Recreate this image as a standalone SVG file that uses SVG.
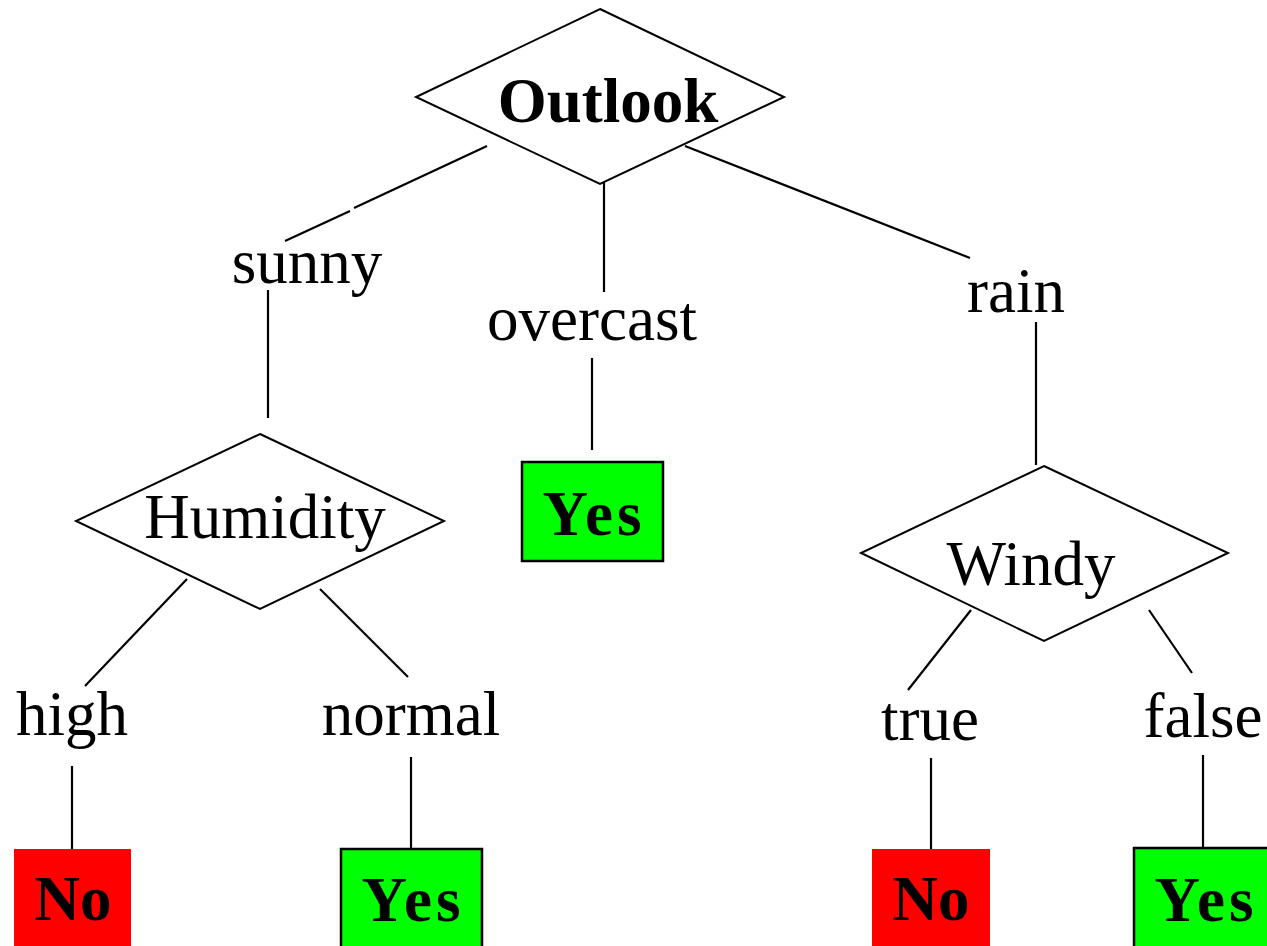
<svg xmlns="http://www.w3.org/2000/svg" width="1267" height="946" viewBox="0 0 1267 946">
<style>
.d{fill:#fff;stroke:#000;stroke-width:2}
.c line{stroke:#000;stroke-width:2.2}
.t{font-family:"Liberation Serif","Times New Roman",serif;font-size:63px;text-anchor:middle;fill:#000}
.b{font-weight:bold}
.y{letter-spacing:4px}
.yes{fill:#00ff00;stroke:#000;stroke-width:2.5}
.no{fill:#ff0000}
</style>
<rect width="1267" height="946" fill="#fff"/>
<g class="c" id="connectors">
<line x1="487" y1="146" x2="354" y2="208"/>
<line x1="350" y1="211" x2="285" y2="241"/>
<line x1="604" y1="178" x2="604" y2="292"/>
<line x1="685" y1="146" x2="970" y2="258"/>
<line x1="268" y1="290" x2="268" y2="418"/>
<line x1="592" y1="358" x2="592" y2="450"/>
<line x1="1036" y1="322" x2="1036" y2="465"/>
<line x1="187" y1="579" x2="85" y2="686"/>
<line x1="320" y1="589" x2="408" y2="677"/>
<line x1="971" y1="610" x2="908" y2="690"/>
<line x1="1149" y1="610" x2="1192" y2="673"/>
<line x1="72" y1="766" x2="72" y2="849"/>
<line x1="411" y1="757" x2="411" y2="848"/>
<line x1="931" y1="758" x2="931" y2="849"/>
<line x1="1203" y1="755" x2="1203" y2="847"/>
</g>
<g id="outlook"><polygon class="d" points="600,9 784,97 600,184 416,97"/><text class="t b" x="608" y="122" font-size="64.5">Outlook</text></g>
<g id="sunny"><text class="t" x="307" y="283">sunny</text></g>
<g id="overcast"><text class="t" x="592" y="340">overcast</text></g>
<g id="rain"><text class="t" x="1016" y="312">rain</text></g>
<g id="humidity"><polygon class="d" points="260,434 444,521 260,609 76,521"/><text class="t" x="265" y="538">Humidity</text></g>
<g id="yes-overcast"><rect class="yes" x="522" y="462" width="141" height="99"/><text class="t b y" x="594" y="535">Yes</text></g>
<g id="windy"><polygon class="d" points="1044,466 1228,553 1044,641 861,553"/><text class="t" x="1031" y="585">Windy</text></g>
<g id="high"><text class="t" x="72" y="735">high</text></g>
<g id="normal"><text class="t" x="411" y="735">normal</text></g>
<g id="true"><text class="t" x="930" y="740">true</text></g>
<g id="false"><text class="t" x="1203" y="737">false</text></g>
<g id="no-high"><rect class="no" x="14" y="849" width="117" height="100"/><text class="t b" x="73" y="920">No</text></g>
<g id="yes-normal"><rect class="yes" x="341" y="849" width="141" height="100"/><text class="t b y" x="413" y="921">Yes</text></g>
<g id="no-true"><rect class="no" x="872" y="849" width="118" height="100"/><text class="t b" x="931" y="920">No</text></g>
<g id="yes-false"><rect class="yes" x="1134" y="848" width="140" height="100"/><text class="t b y" x="1206" y="921">Yes</text></g>
</svg>
